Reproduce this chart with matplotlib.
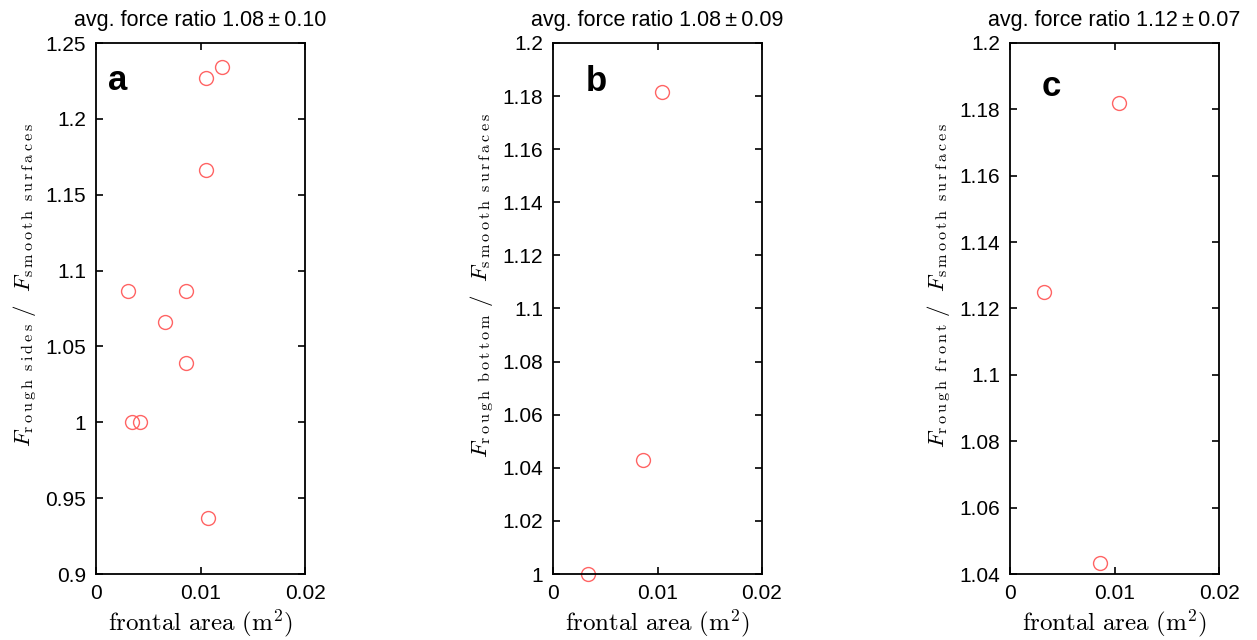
import numpy as np
from matplotlib import pyplot as plt

plt.rcParams['font.family'] = ['Liberation Sans', 'DejaVu Sans']
plt.rcParams['mathtext.fontset'] = 'cm'

# panel a: rough sides
area_a = [0.0031, 0.00865, 0.00663, 0.00865, 0.00343, 0.00417, 0.01070, 0.01055, 0.01208, 0.01055]
ratio_a = [1.0863, 1.0863, 1.066, 1.0393, 1.0, 1.0, 0.937, 1.2267, 1.2344, 1.1663]
# panel b: rough bottom
area_b = [0.00335, 0.0086, 0.0104]
ratio_b = [1.0, 1.043, 1.1817]
# panel c: rough front
area_c = [0.00328, 0.0086, 0.0104]
ratio_c = [1.1249, 1.0432, 1.1819]

titles = ['avg. force ratio 1.08\u2009\u00b1\u20090.10',
          'avg. force ratio 1.08\u2009\u00b1\u20090.09',
          'avg. force ratio 1.12\u2009\u00b1\u20090.07']
letters = ['a', 'b', 'c']
letter_pos = [(0.105, 0.93), (0.205, 0.927), (0.20, 0.919)]
surfaces = ['sides', 'bottom', 'front']
yticks_a = [0.9, 0.95, 1.0, 1.05, 1.1, 1.15, 1.2, 1.25]
ytl_a = ['0.9', '0.95', '1', '1.05', '1.1', '1.15', '1.2', '1.25']
yticks_b = [1.0, 1.02, 1.04, 1.06, 1.08, 1.1, 1.12, 1.14, 1.16, 1.18, 1.2]
ytl_b = ['1', '1.02', '1.04', '1.06', '1.08', '1.1', '1.12', '1.14', '1.16', '1.18', '1.2']
yticks_c = [1.04, 1.06, 1.08, 1.1, 1.12, 1.14, 1.16, 1.18, 1.2]
ytl_c = ['1.04', '1.06', '1.08', '1.1', '1.12', '1.14', '1.16', '1.18', '1.2']
xticks = [0, 0.01, 0.02]
xtl = ['0', '0.01', '0.02']


def spaced(word):
    # letter-spaced roman text for mathtext subscripts
    return r'\:'.join(r'\rm{' + c + '}' for c in word)


def ylab(surf):
    sub1 = spaced('rough') + r'\ \ ' + spaced(surf)
    sub2 = spaced('smooth') + r'\ \ ' + spaced('surfaces')
    return r'$F_{' + sub1 + r'}\ /\ \ F_{' + sub2 + '}$'


fig = plt.figure(figsize=(12.57, 6.4), dpi=100)
lefts = [96/1257, 553/1257, 1010/1257]
data = [(area_a, ratio_a, yticks_a, ytl_a, (0.9, 1.25)),
        (area_b, ratio_b, yticks_b, ytl_b, (1.0, 1.2)),
        (area_c, ratio_c, yticks_c, ytl_c, (1.04, 1.2))]

for i, (x, y, yt, ytl, ylim) in enumerate(data):
    ax = fig.add_axes([lefts[i], 1 - 574/640, 209/1257, 531/640])
    ax.plot(x, y, 'o', mfc='none', mec='#ff6464', ms=10, mew=1.0, clip_on=False)
    ax.set_xlim(0, 0.02)
    ax.set_ylim(*ylim)
    ax.set_xticks(xticks)
    ax.set_xticklabels(xtl)
    ax.set_yticks(yt)
    ax.set_yticklabels(ytl)
    ax.tick_params(direction='in', top=True, right=True, length=5, width=1.2,
                   labelsize=15, pad=7)
    for s in ax.spines.values():
        s.set_linewidth(1.3)
    ax.set_title(titles[i], fontsize=15.5, pad=12)
    ax.set_xlabel(r'$\rm frontal\ area\ (m^2)$', fontsize=18, labelpad=3)
    ax.set_ylabel(ylab(surfaces[i]), fontsize=16.5, va='center')
    ax.yaxis.set_label_coords(-0.335, 0.544)
    ax.text(letter_pos[i][0], letter_pos[i][1], letters[i], transform=ax.transAxes,
            fontsize=25, fontweight='bold', ha='center', va='center')

plt.savefig('out.png', dpi=100)
